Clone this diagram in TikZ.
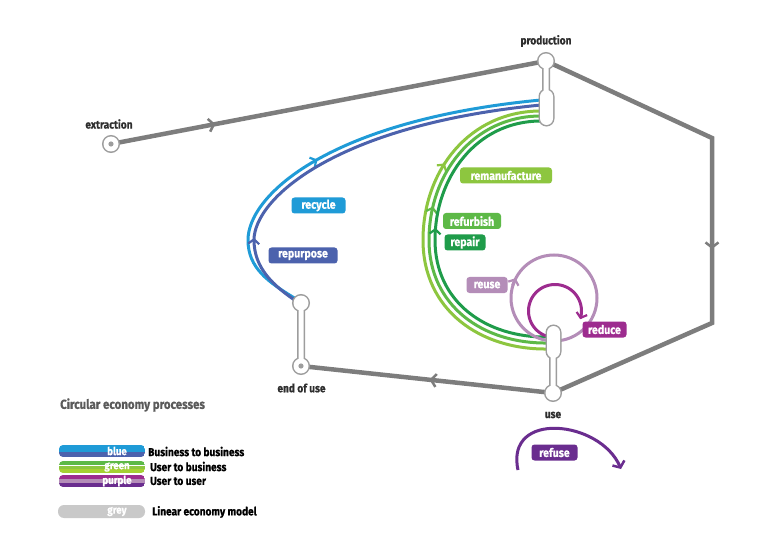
\documentclass[tikz,border=0pt]{standalone}
\usepackage{fontspec}
\setmainfont{Fira Sans}[FakeStretch=0.88,BoldFeatures={FakeBold=0.7}]
\usetikzlibrary{arrows.meta,decorations.markings}
\definecolor{lineGrey}{HTML}{7D7D7D}
\definecolor{nodeGrey}{HTML}{9D9D9D}
\definecolor{blueA}{HTML}{1F9BD7}
\definecolor{blueB}{HTML}{4C62AD}
\definecolor{greenA}{HTML}{8DC63F}
\definecolor{greenB}{HTML}{5DB947}
\definecolor{greenC}{HTML}{1F9C4A}
\definecolor{purA}{HTML}{B48DB8}
\definecolor{purB}{HTML}{9D2C8F}
\definecolor{purC}{HTML}{6A2D8F}
\definecolor{legGrey}{HTML}{C9C9C9}
\definecolor{txtDark}{HTML}{2E2E2E}
\definecolor{txtGrey}{HTML}{5A5A5A}
\newcommand\capsshape[1]{\path[draw=nodeGrey,line width=3pt] #1; \path[fill=white] #1;}
\begin{document}
\begin{tikzpicture}[x=1pt,y=-1pt,
  gline/.style={draw=lineGrey,line width=4.5pt},
  garrow/.style={postaction={decorate},decoration={markings,mark=at position #1 with {\arrow[lineGrey]{Straight Barb[length=5pt,width=13pt,line width=2.5pt]}}}},
  cline/.style={line width=3pt},
  carrow/.style={postaction={decorate},decoration={markings,mark=at position #1 with {\arrow{Straight Barb[length=4.5pt,width=11pt,line width=2.2pt]}}}},
  ctip/.style={-{Straight Barb[length=4.5pt,width=11pt,line width=2.2pt]}},
  lbox/.style={rounded corners=3pt,text=white,font=\bfseries\fontsize{12}{12}\selectfont,inner sep=0pt,minimum height=16pt},
  ttext/.style={text=txtDark,font=\bfseries\fontsize{11.5}{11.5}\selectfont,inner sep=0pt},
  legtext/.style={text=black,font=\bfseries\fontsize{11.5}{11.5}\selectfont,inner sep=0pt,anchor=west},
  bartext/.style={text=white,font=\bfseries\fontsize{11}{11}\selectfont,inner sep=0pt}
]
\useasboundingbox[fill=white] (0,0) rectangle (758,540);

% named points
\coordinate (extr) at (111,144);
\coordinate (prod) at (546,61);
\coordinate (cornerA) at (712,138);
\coordinate (cornerB) at (712,323);
\coordinate (use) at (553,393);
\coordinate (eou) at (301,366);
\coordinate (eoutop) at (301,303);
\coordinate (reuseC) at (554,298);

% linear grey model
\draw[gline,garrow=0.24] (extr) -- (prod);
\draw[gline,line join=miter] (prod) -- (cornerA) -- (cornerB) -- (use);
\draw[gline,garrow=0.6] (cornerA) -- (cornerB);
\draw[gline,garrow=0.49] (use) -- (eou);

% blue curves
\draw[cline,blueA,carrow=0.45] (296,299) .. controls (268,282) and (248,268) .. (248,240) .. controls (248,195) and (330,120) .. (541,100);
\draw[cline,blueB,carrow=0.2] (299,303) .. controls (273,286) and (254,268) .. (254,240) .. controls (254,199) and (335,125) .. (541,105);

% green curves
\draw[cline,greenA,carrow=0.7] (548,349) .. controls (480,350) and (423,310) .. (423,240) .. controls (423,170) and (470,111) .. (541,111);
\draw[cline,greenB,carrow=0.58] (548,343) .. controls (483,344) and (429,306) .. (429,240) .. controls (429,174) and (473,116) .. (541,116);
\draw[cline,greenC,carrow=0.52] (548,337) .. controls (486,338) and (435,302) .. (435,240) .. controls (435,178) and (476,121) .. (541,121);

% purple circles
\draw[cline,purA] (reuseC) circle (43pt);
\draw[cline,purA,ctip] (512.6,285.6) -- (515.6,278.2);
\draw[cline,purB,ctip] plot[smooth,domain=110:378,samples=60] ({555+26.5*cos(\x)},{311+26.5*sin(\x)});

% refuse arc
\draw[cline,purC,-{Straight Barb[length=5pt,width=13pt,line width=2.5pt]}] (518,470) .. controls (505,410) and (600,420) .. (621,469);

% node shapes
\capsshape{(prod) circle (7.5pt) (543.5,61) rectangle (548.5,92) (540,90) [rounded corners=6.5pt] rectangle (553,125)}
\capsshape{(use) circle (7.5pt) (550.5,355) rectangle (555.5,393) (547,326) [rounded corners=6.5pt] rectangle (560,358)}
\capsshape{(eou) circle (7.5pt) (eoutop) circle (7.5pt) (298.5,303) rectangle (303.5,366)}
\capsshape{(extr) circle (7.5pt)}
\fill[nodeGrey] (extr) circle (2.6pt);
\fill[nodeGrey] (eou) circle (2.6pt);

% process labels
\node[lbox,fill=blueA,minimum width=54pt] (recycle) at (318.5,205.5) {recycle};
\node[lbox,fill=blueB,minimum width=69pt] (repurpose) at (303,255.5) {repurpose};
\node[lbox,fill=greenA,minimum width=92pt] (reman) at (506,175.5) {remanufacture};
\node[lbox,fill=greenB,minimum width=58pt] (refurb) at (472,221) {refurbish};
\node[lbox,fill=greenC,minimum width=41pt] (repair) at (465,242.5) {repair};
\node[lbox,fill=purA,minimum width=41pt] (reuse) at (487,285) {reuse};
\node[lbox,fill=purB,minimum width=44pt] (reduce) at (604.5,329.5) {reduce};
\node[lbox,fill=purC,minimum width=46pt] (refuse) at (554.5,452.5) {refuse};

% stage labels
\node[ttext] (prodlbl) at (546,41) {production};
\node[ttext] (extrlbl) at (109,124) {extraction};
\node[ttext] (eoulbl) at (301.5,388) {end of use};
\node[ttext] (uselbl) at (553,415) {use};

% legend
\node[text=txtGrey,font=\bfseries\fontsize{13}{13}\selectfont,inner sep=0pt,anchor=west] (legtitle) at (60,405) {Circular economy processes};

\begin{scope}
\clip[rounded corners=4pt] (59,445) rectangle (145,457);
\fill[blueA] (59,445) rectangle (145,451.5);
\fill[blueB] (59,451.5) rectangle (145,457);
\end{scope}
\node[bartext] (lblue) at (117,451) {blue};
\node[legtext] (lbluetxt) at (148,451.5) {Business to business};

\begin{scope}
\clip[rounded corners=4pt] (59,461) rectangle (145,473);
\fill[greenB] (59,461) rectangle (145,465);
\fill[white] (59,465) rectangle (145,465.6);
\fill[greenA] (59,465.6) rectangle (145,469);
\fill[greenA!80!yellow] (59,469) rectangle (145,473);
\end{scope}
\node[bartext] (lgreen) at (117,467) {green};
\node[legtext] (lgreentxt) at (150,466.5) {User to business};

\begin{scope}
\clip[rounded corners=4pt] (59,475) rectangle (145,487);
\fill[purB] (59,475) rectangle (145,479);
\fill[purA] (59,479) rectangle (145,483);
\fill[purC] (59,483) rectangle (145,487);
\end{scope}
\node[bartext] (lpurple) at (117,481) {purple};
\node[legtext] (lpurpletxt) at (150,481) {User to user};

\fill[legGrey,rounded corners=6pt] (58,505) rectangle (145,518);
\node[bartext] (lgrey) at (117,511.5) {grey};
\node[legtext] (lgreytxt) at (152,512) {Linear economy model};
\end{tikzpicture}
\end{document}
